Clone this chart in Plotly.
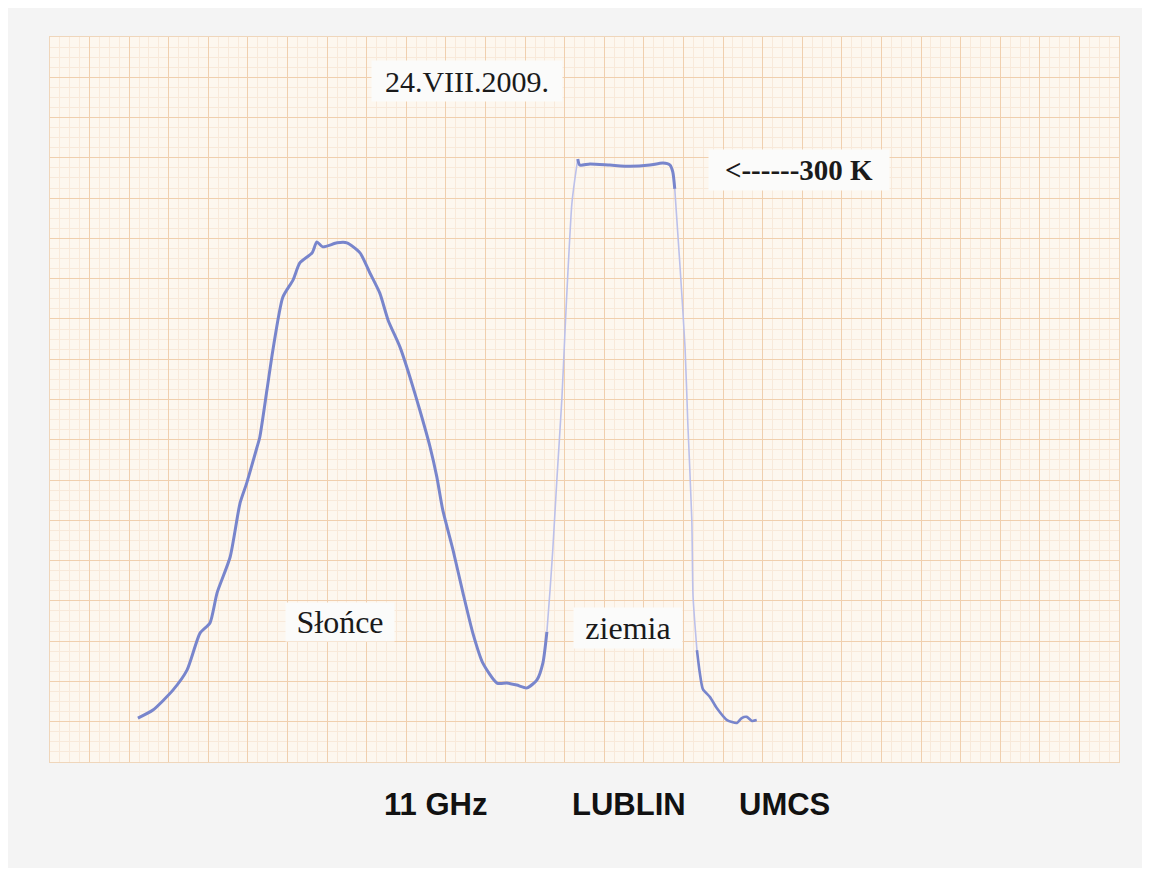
import plotly.graph_objects as go

# Chart-paper units (major divisions): x = time along paper, y = recorder deflection
sun_x = [2.22, 2.60, 3.11, 3.46, 3.79, 4.04, 4.22, 4.55, 4.80, 4.97, 5.23, 5.30, 5.48, 5.63,
         5.88, 6.14, 6.31, 6.62, 6.74, 6.89, 7.25, 7.50, 7.83, 8.08, 8.33, 8.54, 8.84, 9.09,
         9.34, 9.60, 9.77, 9.92, 10.18, 10.43, 10.68, 10.93, 11.29, 11.54, 11.79, 12.05,
         12.30, 12.45, 12.55]
sun_y = [1.09, 1.29, 1.79, 2.28, 3.20, 3.45, 4.20, 5.09, 6.43, 6.93, 7.82, 8.07, 9.24, 10.23,
         11.54, 11.97, 12.39, 12.64, 12.91, 12.79, 12.89, 12.89, 12.64, 12.14, 11.64, 10.97,
         10.30, 9.56, 8.74, 7.82, 7.08, 6.26, 5.26, 4.20, 3.20, 2.46, 1.96, 1.96, 1.91, 1.84,
         2.04, 2.46, 3.23]

rise_x = [12.55, 12.63, 12.70, 12.80, 12.93, 13.01, 13.08, 13.18, 13.26, 13.33]
rise_y = [3.23, 4.27, 5.29, 6.98, 9.04, 10.75, 12.14, 13.85, 14.50, 14.97]

plateau_x = [13.33, 13.38, 13.64, 14.14, 14.65, 15.15, 15.48, 15.66, 15.73, 15.78]
plateau_y = [14.97, 14.82, 14.85, 14.82, 14.79, 14.82, 14.87, 14.82, 14.65, 14.23]

fall_x = [15.78, 15.91, 16.04, 16.11, 16.21, 16.24, 16.29, 16.34]
fall_y = [14.23, 12.34, 10.28, 8.39, 6.03, 4.15, 3.40, 2.78]

tail_x = [16.34, 16.41, 16.49, 16.67, 16.84, 17.10, 17.35, 17.47, 17.60, 17.73, 17.85]
tail_y = [2.78, 2.23, 1.81, 1.61, 1.34, 1.04, 0.97, 1.09, 1.12, 1.02, 1.04]

date_label = "24.VIII.2009."
ref_label = "&lt;------300 K"
sun_label = "Słońce"
earth_label = "ziemia"
footer_labels = ["11 GHz", "LUBLIN", "UMCS"]

PEN = "#7885cc"
PEN_LIGHT = "#bcc0ea"

fig = go.Figure()
for xs, ys, col, w in [(sun_x, sun_y, PEN, 3), (rise_x, rise_y, PEN_LIGHT, 1.6),
                       (plateau_x, plateau_y, PEN, 3), (fall_x, fall_y, PEN_LIGHT, 1.6),
                       (tail_x, tail_y, PEN, 2.6)]:
    fig.add_trace(go.Scatter(x=xs, y=ys, mode="lines", line=dict(color=col, width=w, smoothing=0.6),
                             line_shape="spline", hoverinfo="skip", showlegend=False))

serif = "Liberation Serif, Times New Roman, serif"
box = dict(bgcolor="#fbfbfa", borderpad=4, showarrow=False, xref="x", yref="y")
fig.add_annotation(x=10.53, y=16.91, text=date_label, font=dict(family=serif, size=30, color="#1a1a1a"),
                   width=182, height=32, **box)
fig.add_annotation(x=18.91, y=14.70, text="<b>" + ref_label + "</b>",
                   font=dict(family=serif, size=29, color="#1a1a1a"), width=172, height=32, **box)
fig.add_annotation(x=7.32, y=3.48, text=sun_label, font=dict(family=serif, size=32, color="#1a1a1a"),
                   width=100, height=30, **box)
fig.add_annotation(x=14.60, y=3.33, text=earth_label, font=dict(family=serif, size=32, color="#1a1a1a"),
                   width=100, height=32, **box)

for lab, px in zip(footer_labels, [0.361, 0.542, 0.687]):
    fig.add_annotation(x=px, y=-0.059, xref="paper", yref="paper", text="<b>" + lab + "</b>",
                       xanchor="center", yanchor="middle", showarrow=False,
                       font=dict(family="Liberation Sans, Arial, sans-serif", size=31, color="#111111"))

axis_common = dict(showticklabels=False, ticks="", zeroline=False, showline=True,
                   linecolor="#efd6bb", linewidth=1, mirror=True, showgrid=True,
                   gridcolor="#f0cfae", gridwidth=1.4,
                   minor=dict(dtick=0.25, showgrid=True, gridcolor="#f8e9da", gridwidth=1))
fig.update_xaxes(range=[0, 27], dtick=1, tick0=0, **axis_common)
fig.update_yaxes(range=[0, 18], dtick=1, tick0=0, **axis_common)

fig.update_layout(width=1134, height=860, margin=dict(l=42, r=23, t=29, b=106),
                  paper_bgcolor="#f4f4f4", plot_bgcolor="#fdf7ef")

fig.write_html("out.html")
